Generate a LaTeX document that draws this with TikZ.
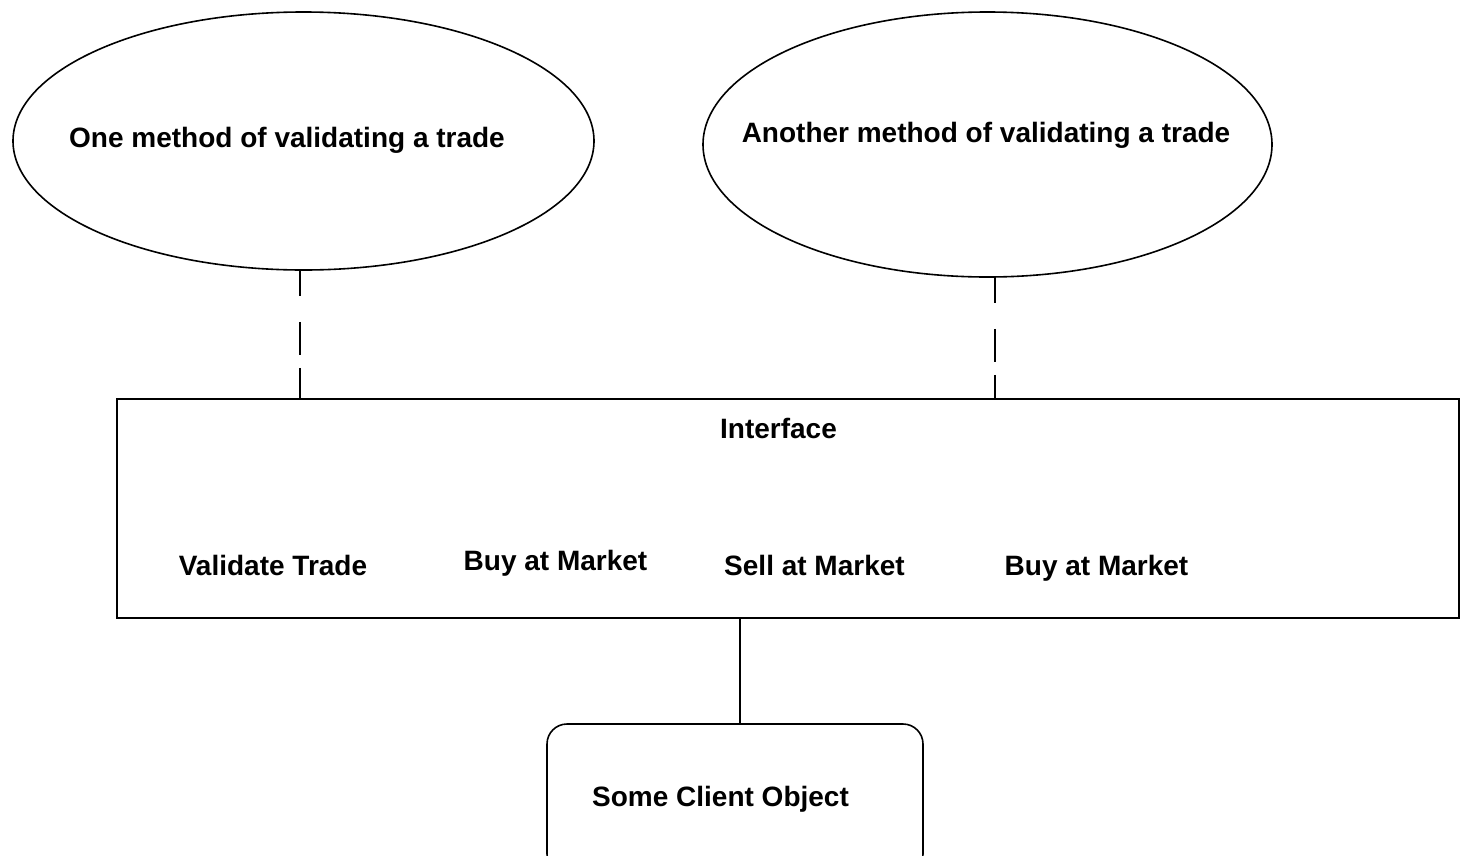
\documentclass[tikz,border=0pt]{standalone}
\usepackage{fontspec}
\setmainfont{Liberation Sans}
\usetikzlibrary{shapes.geometric}
\begin{document}
\begin{tikzpicture}[x=1pt,y=-1pt,
  shape line/.style={line width=1.6pt,draw=black},
  lbl/.style={font=\fontsize{28}{31}\selectfont\bfseries,anchor=mid,inner sep=0pt,yshift=-7pt},
  oval/.style={shape line,ellipse,inner sep=0pt},
  dashline/.style={line width=1.6pt,dash pattern=on 25pt off 26pt on 33pt off 13pt on 40pt},
  solidline/.style={line width=1.6pt}]
\useasboundingbox (0,0) rectangle (1462,855);
\clip (0,0) rectangle (1462,855);
\fill[white] (0,0) rectangle (1462,855);
\node[oval,minimum width=581pt,minimum height=258pt] (e1) at (303.5,141) {};
\node[oval,minimum width=569pt,minimum height=265pt] (e2) at (987.5,144.5) {};
\node[lbl] (t1) at (287,138) {One method of validating a trade};
\node[lbl] (t2) at (986,133) {Another method of validating a trade};
\node[shape line,rectangle,minimum width=1342pt,minimum height=219pt,inner sep=0pt] (iface) at (788,508.5) {};
\node[lbl] (ti) at (778.5,429) {Interface};
\node[lbl] (m1) at (273,566) {Validate Trade};
\node[lbl] (m2) at (555.5,561) {Buy at Market};
\node[lbl] (m3) at (814.5,566) {Sell at Market};
\node[lbl] (m4) at (1096.5,566) {Buy at Market};
\node[shape line,rectangle,rounded corners=20pt,minimum width=376pt,minimum height=150pt,inner sep=0pt] (client) at (735,799) {};
\node[lbl] (tc) at (720.5,797) {Some Client Object};
\coordinate (ca) at (300,0);
\coordinate (cb) at (995,0);
\coordinate (cc) at (740,0);
\draw[dashline] (e1.south -| ca) -- (iface.north -| ca);
\draw[dashline] (e2.south -| cb) -- (iface.north -| cb);
\draw[solidline] (iface.south -| cc) -- (client.north -| cc);
\end{tikzpicture}
\end{document}
